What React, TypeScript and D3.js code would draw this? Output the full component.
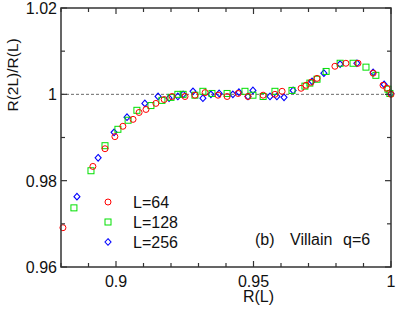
import React from 'react';
import * as d3 from 'd3';

// R(2L)/R(L) versus R(L)
const red64: [number, number][] = [
  [0.8807, 0.9691], [0.8916, 0.9833], [0.8960, 0.9874], [0.8996, 0.9902],
  [0.9025, 0.9926], [0.9062, 0.9942], [0.9084, 0.9958], [0.9109, 0.9965],
  [0.9145, 0.9979], [0.9175, 0.9988], [0.9204, 0.9995], [0.9251, 0.9995],
  [0.9287, 0.9998], [0.9324, 1.0004], [0.9371, 0.9998], [0.9404, 0.9995],
  [0.9444, 1.0002], [0.9480, 0.9995], [0.9535, 0.9998], [0.9578, 1.0000],
  [0.9604, 1.0007], [0.9673, 1.0014], [0.9691, 1.0021], [0.9709, 1.0028],
  [0.9731, 1.0037], [0.9796, 1.0065], [0.9836, 1.0072], [0.9880, 1.0072],
  [0.9935, 1.0049], [0.9971, 1.0021], [0.9985, 1.0014], [1.0000, 1.0000],
];
const green128: [number, number][] = [
  [0.8847, 0.9737], [0.8909, 0.9823], [0.8960, 0.9881], [0.9007, 0.9919],
  [0.9044, 0.9940], [0.9076, 0.9963], [0.9127, 0.9974], [0.9167, 0.9986],
  [0.9200, 0.9993], [0.9225, 1.0000], [0.9244, 1.0000], [0.9287, 0.9998],
  [0.9316, 1.0007], [0.9349, 1.0002], [0.9404, 1.0002], [0.9469, 1.0007],
  [0.9498, 0.9998], [0.9535, 0.9995], [0.9578, 1.0007], [0.9640, 1.0009],
  [0.9687, 1.0019], [0.9705, 1.0026], [0.9731, 1.0035], [0.9764, 1.0053],
  [0.9815, 1.0072], [0.9862, 1.0072], [0.9909, 1.0063], [0.9945, 1.0044],
  [0.9989, 1.0012], [0.9996, 1.0002],
];
const blue256: [number, number][] = [
  [0.8858, 0.9763], [0.8935, 0.9853], [0.8993, 0.9912], [0.9040, 0.9947],
  [0.9105, 0.9979], [0.9153, 0.9995], [0.9193, 0.9991], [0.9225, 0.9995],
  [0.9244, 1.0000], [0.9280, 1.0007], [0.9316, 0.9991], [0.9345, 1.0000],
  [0.9375, 1.0002], [0.9425, 1.0000], [0.9447, 1.0005], [0.9480, 0.9995],
  [0.9498, 1.0009], [0.9560, 0.9995], [0.9585, 0.9995], [0.9611, 0.9993],
  [0.9644, 1.0009], [0.9713, 1.0030], [0.9756, 1.0049], [0.9815, 1.0070],
  [0.9876, 1.0072], [0.9935, 1.0051], [0.9975, 1.0023], [1.0000, 1.0002],
];

const xTicks = d3.range(0.88, 1.0001, 0.01);
const yTicks = d3.range(0.96, 1.0201, 0.01);
const xLabels = [0.9, 0.95, 1];
const yLabels = [0.96, 0.98, 1, 1.02];
const legend = ['L=64', 'L=128', 'L=256'];

const font = '"Liberation Sans", Arial, sans-serif';

export default function App() {
  const m = { left: 61, right: 391, top: 8, bottom: 267 };
  const x = d3.scaleLinear().domain([0.88, 1.0]).range([m.left, m.right]);
  const y = d3.scaleLinear().domain([0.96, 1.02]).range([m.bottom, m.top]);
  const near = (a: number, list: number[]) => list.some(v => Math.abs(v - a) < 1e-6);

  const circle = (cx: number, cy: number, k: string) => (
    <circle key={k} cx={cx} cy={cy} r={3} fill="none" stroke="#ff0000" strokeWidth={1} />
  );
  const square = (cx: number, cy: number, k: string) => (
    <rect key={k} x={cx - 3} y={cy - 3} width={6} height={6} fill="none" stroke="#00e000" strokeWidth={1} />
  );
  const diamond = (cx: number, cy: number, k: string) => (
    <path key={k} d={`M${cx},${cy - 3.3}L${cx + 3},${cy}L${cx},${cy + 3.3}L${cx - 3},${cy}Z`}
      fill="none" stroke="#0000ff" strokeWidth={1.1} />
  );
  const markers = [circle, square, diamond];

  return (
    <svg width={399} height={313} style={{ position: 'absolute', left: 0, top: 0 }} fontFamily={font}>
      <rect width={399} height={313} fill="#fff" />
      {/* reference line */}
      <line x1={m.left} x2={m.right} y1={y(1)} y2={y(1)} stroke="#444" strokeWidth={0.8} strokeDasharray="3,2" />

      {/* data */}
      {blue256.map((d, i) => diamond(x(d[0]), y(d[1]), 'b' + i))}
      {green128.map((d, i) => square(x(d[0]), y(d[1]), 'g' + i))}
      {red64.map((d, i) => circle(x(d[0]), y(d[1]), 'r' + i))}

      {/* frame and ticks */}
      <rect x={m.left} y={m.top} width={m.right - m.left} height={m.bottom - m.top} fill="none" stroke="#333" strokeWidth={1.5} />
      {xTicks.map((t, i) => {
        const len = near(t, xLabels) ? 6 : 4;
        return (
          <g key={'xt' + i} stroke="#333" strokeWidth={1.2}>
            <line x1={x(t)} x2={x(t)} y1={m.bottom} y2={m.bottom - len} />
            <line x1={x(t)} x2={x(t)} y1={m.top} y2={m.top + len} />
          </g>
        );
      })}
      {yTicks.map((t, i) => {
        const len = near(t, yLabels) ? 6 : 4;
        return (
          <g key={'yt' + i} stroke="#333" strokeWidth={1.2}>
            <line x1={m.left} x2={m.left + len} y1={y(t)} y2={y(t)} />
            <line x1={m.right} x2={m.right - len} y1={y(t)} y2={y(t)} />
          </g>
        );
      })}
      {xLabels.map(t => (
        <text key={'xl' + t} x={x(t)} y={m.bottom + 20} textAnchor="middle" fontSize={16} fill="#111">
          {d3.format('')(t)}
        </text>
      ))}
      {yLabels.map(t => (
        <text key={'yl' + t} x={m.left - 4} y={y(t) + 6} textAnchor="end" fontSize={16} fill="#111">
          {t === 1 ? '1' : t.toFixed(2)}
        </text>
      ))}
      <text x={x(0.95) + 5} y={302} textAnchor="middle" fontSize={16} fill="#111">R(L)</text>
      <text transform={`translate(18,${y(1.0045)}) rotate(-90)`} textAnchor="middle" fontSize={15.5} fill="#111">R(2L)/R(L)</text>

      {/* legend */}
      {legend.map((l, i) => (
        <g key={l}>
          {markers[i](108, 202 + i * 20, 'lg' + i)}
          <text x={133} y={207.5 + i * 20} fontSize={16} fill="#111">{l}</text>
        </g>
      ))}
      <g fontSize={16} fill="#111">
        <text x={255} y={245}>(b)</text>
        <text x={290} y={245}>Villain</text>
        <text x={343} y={245}>q=6</text>
      </g>
    </svg>
  );
}
